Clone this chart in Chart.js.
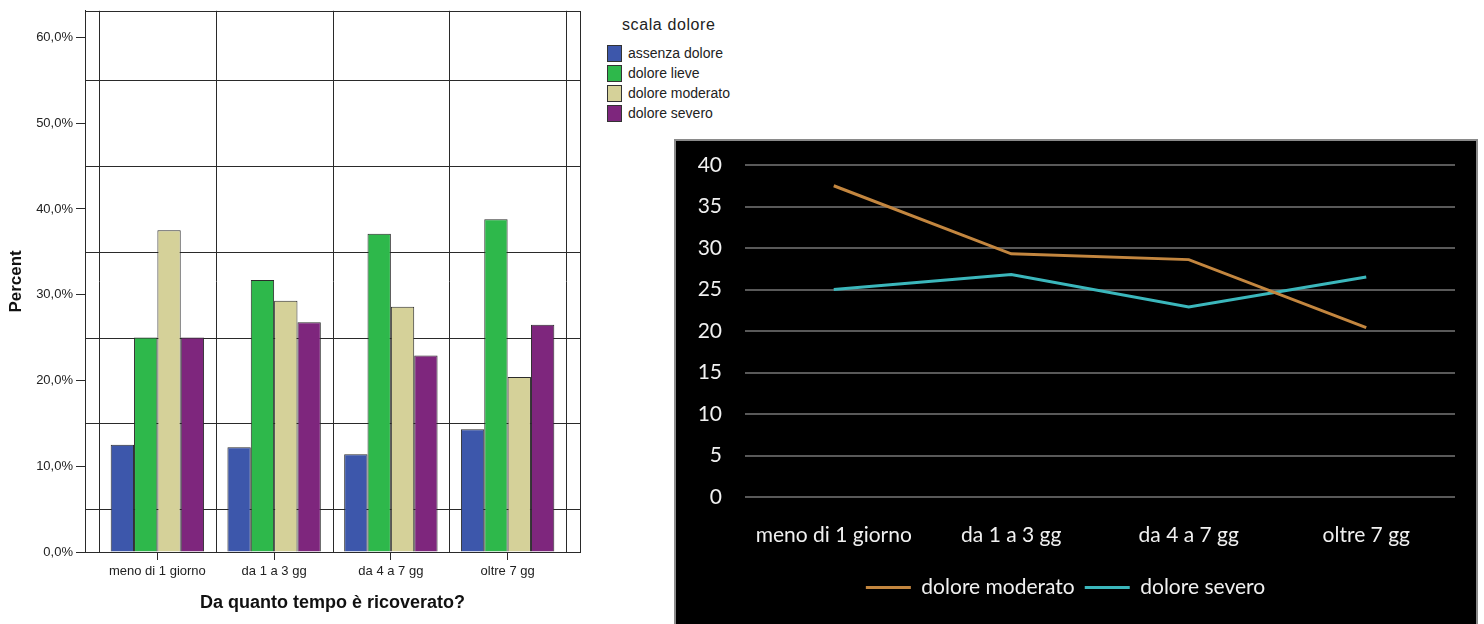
<!DOCTYPE html>
<html>
<head>
<meta charset="utf-8">
<script src="https://cdn.jsdelivr.net/npm/chart.js@4.4.1/dist/chart.umd.min.js"></script>
<style>
  html, body { margin: 0; padding: 0; background: #fff; }
  body { width: 1484px; height: 624px; position: relative; overflow: hidden; }
  #barChart { position: absolute; left: 0; top: 0; }
  #legend { position: absolute; left: 605px; top: 16px; font-family: "Liberation Sans", Arial, sans-serif; color: #222; }
  #legend .title { font-size: 16px; letter-spacing: 0.6px; margin: 0 0 9px 17px; }
  #legend .item { height: 20px; display: flex; align-items: center; font-size: 14px; }
  #legend .box { width: 15px; height: 17px; border: 1px solid #333; box-sizing: border-box; margin: 0 6px 0 2px; }
  #lineWrap { position: absolute; left: 674px; top: 139px; width: 800px; height: 485px; background: #000; border: 2px solid #8a8a8a; }
  #lineChart { position: absolute; left: 0; top: 0; }
</style>
</head>
<body>
<canvas id="barChart" width="600" height="624"></canvas>
<div id="legend"></div>
<div id="lineWrap"><canvas id="lineChart" width="800" height="485"></canvas></div>

<script>
// Dati
const categories = ['meno di 1 giorno', 'da 1 a 3 gg', 'da 4 a 7 gg', 'oltre 7 gg'];
const assenzaDolore  = [12.5, 12.2, 11.4, 14.3];
const doloreLieve    = [25.0, 31.7, 37.1, 38.8];
const doloreModerato = [37.5, 29.3, 28.6, 20.4];
const doloreSevero   = [25.0, 26.8, 22.9, 26.5];

const percentTicks = [0, 10, 20, 30, 40, 50, 60];
const percentGrid  = [5, 15, 25, 35, 45, 55];
const lineTicks    = [0, 5, 10, 15, 20, 25, 30, 35, 40];

const seriesNames  = ['assenza dolore', 'dolore lieve', 'dolore moderato', 'dolore severo'];
const seriesColors = ['#3d57ab', '#2eb84b', '#d5d199', '#7e267d'];
const seriesData   = [assenzaDolore, doloreLieve, doloreModerato, doloreSevero];

// Legenda SPSS (html)
const legendEl = document.getElementById('legend');
legendEl.innerHTML = '<div class="title">scala dolore</div>' +
  seriesNames.map((n, i) =>
    `<div class="item"><span class="box" style="background:${seriesColors[i]}"></span>${n}</div>`
  ).join('');

// Griglia e cornice stile SPSS
const spssGrid = {
  id: 'spssGrid',
  beforeDatasetsDraw(chart) {
    const { ctx, chartArea: a, scales: { x, y } } = chart;
    ctx.save();
    ctx.strokeStyle = '#2a2a2a';
    ctx.lineWidth = 1;
    ctx.beginPath();
    percentGrid.forEach(v => {
      const py = Math.round(y.getPixelForValue(v)) + 0.5;
      ctx.moveTo(a.left, py); ctx.lineTo(a.right, py);
    });
    for (let i = 0; i <= categories.length; i++) {
      const px = Math.round(x.getPixelForValue(i - 0.5)) + 0.5;
      ctx.moveTo(px, a.top); ctx.lineTo(px, a.bottom);
    }
    ctx.stroke();
    ctx.restore();
  },
  afterDatasetsDraw(chart) {
    const { ctx, chartArea: a } = chart;
    ctx.save();
    ctx.strokeStyle = '#2a2a2a';
    ctx.lineWidth = 1;
    ctx.strokeRect(Math.round(a.left) + 0.5, Math.round(a.top) + 0.5,
                   Math.round(a.right - a.left), Math.round(a.bottom - a.top));
    ctx.restore();
  }
};

const spssFont = "'Liberation Sans', Arial, sans-serif";

new Chart(document.getElementById('barChart'), {
  type: 'bar',
  data: {
    datasets: seriesNames.map((n, i) => ({
      label: n,
      data: seriesData[i].map((v, k) => ({ x: k, y: v })),
      backgroundColor: seriesColors[i],
      borderColor: '#2b2b2b',
      borderWidth: 1,
      categoryPercentage: 0.8,
      barPercentage: 1
    }))
  },
  options: {
    responsive: false,
    animation: false,
    layout: { padding: { top: 7, right: 20, left: 0, bottom: 0 } },
    plugins: { legend: { display: false }, tooltip: { enabled: false } },
    scales: {
      x: {
        type: 'linear',
        offset: false,
        min: -0.62,
        max: 3.62,
        afterBuildTicks: s => { s.ticks = categories.map((c, i) => ({ value: i })); },
        afterFit: s => { s.height = 72; },
        ticks: {
          callback: v => categories[v],
          font: { family: spssFont, size: 13 },
          color: '#222',
          padding: 4,
          maxRotation: 0,
          autoSkip: false
        },
        grid: { drawOnChartArea: false, offset: false, tickLength: 8, color: '#2a2a2a' },
        border: { display: true, color: '#2a2a2a' },
        title: {
          display: true,
          text: 'Da quanto tempo è ricoverato?',
          font: { family: spssFont, size: 18, weight: 'bold' },
          color: '#111',
          padding: { top: 0, bottom: 10 }
        }
      },
      y: {
        min: 0,
        max: 63.1,
        afterBuildTicks: s => { s.ticks = percentTicks.map(v => ({ value: v })); },
        afterFit: s => { s.width = 85; },
        ticks: {
          callback: v => v.toFixed(1).replace('.', ',') + '%',
          font: { family: spssFont, size: 13 },
          color: '#222',
          padding: 3
        },
        grid: { drawOnChartArea: false, tickLength: 9, color: '#2a2a2a' },
        border: { display: true, color: '#2a2a2a' },
        title: {
          display: true,
          text: 'Percent',
          font: { family: spssFont, size: 17, weight: 'bold' },
          color: '#111',
          padding: { top: 6, bottom: 0 }
        }
      }
    }
  },
  plugins: [spssGrid]
});

// Grafico a linee (sfondo nero)
const lineFont = "Lato, 'Open Sans', sans-serif";

new Chart(document.getElementById('lineChart'), {
  type: 'line',
  data: {
    labels: categories,
    datasets: [
      {
        label: 'dolore moderato',
        data: doloreModerato,
        borderColor: '#c3863f',
        backgroundColor: '#c3863f',
        borderWidth: 3,
        pointRadius: 0,
        tension: 0
      },
      {
        label: 'dolore severo',
        data: doloreSevero,
        borderColor: '#3bb7bc',
        backgroundColor: '#3bb7bc',
        borderWidth: 3,
        pointRadius: 0,
        tension: 0
      }
    ]
  },
  options: {
    responsive: false,
    animation: false,
    layout: { padding: { top: 24, right: 21, left: 0, bottom: 18 } },
    plugins: {
      tooltip: { enabled: false },
      legend: {
        position: 'bottom',
        labels: {
          usePointStyle: true,
          pointStyle: 'line',
          pointStyleWidth: 45,
          color: '#f0f0f0',
          font: { family: lineFont, size: 21 },
          padding: 10
        }
      }
    },
    scales: {
      x: {
        offset: true,
        afterFit: s => { s.height = 70; },
        grid: { display: false },
        border: { display: false },
        ticks: {
          color: '#f0f0f0',
          font: { family: lineFont, size: 21 },
          padding: 18,
          maxRotation: 0,
          autoSkip: false
        }
      },
      y: {
        min: 0,
        max: 40,
        afterBuildTicks: s => { s.ticks = lineTicks.map(v => ({ value: v })); },
        afterFit: s => { s.width = 69; },
        grid: { color: '#595959', lineWidth: 2, drawTicks: true, tickLength: 23, tickColor: 'rgba(0,0,0,0)' },
        border: { display: false },
        ticks: {
          color: '#f0f0f0',
          font: { family: lineFont, size: 21 },
          padding: 0
        }
      }
    }
  }
});
</script>
</body>
</html>
